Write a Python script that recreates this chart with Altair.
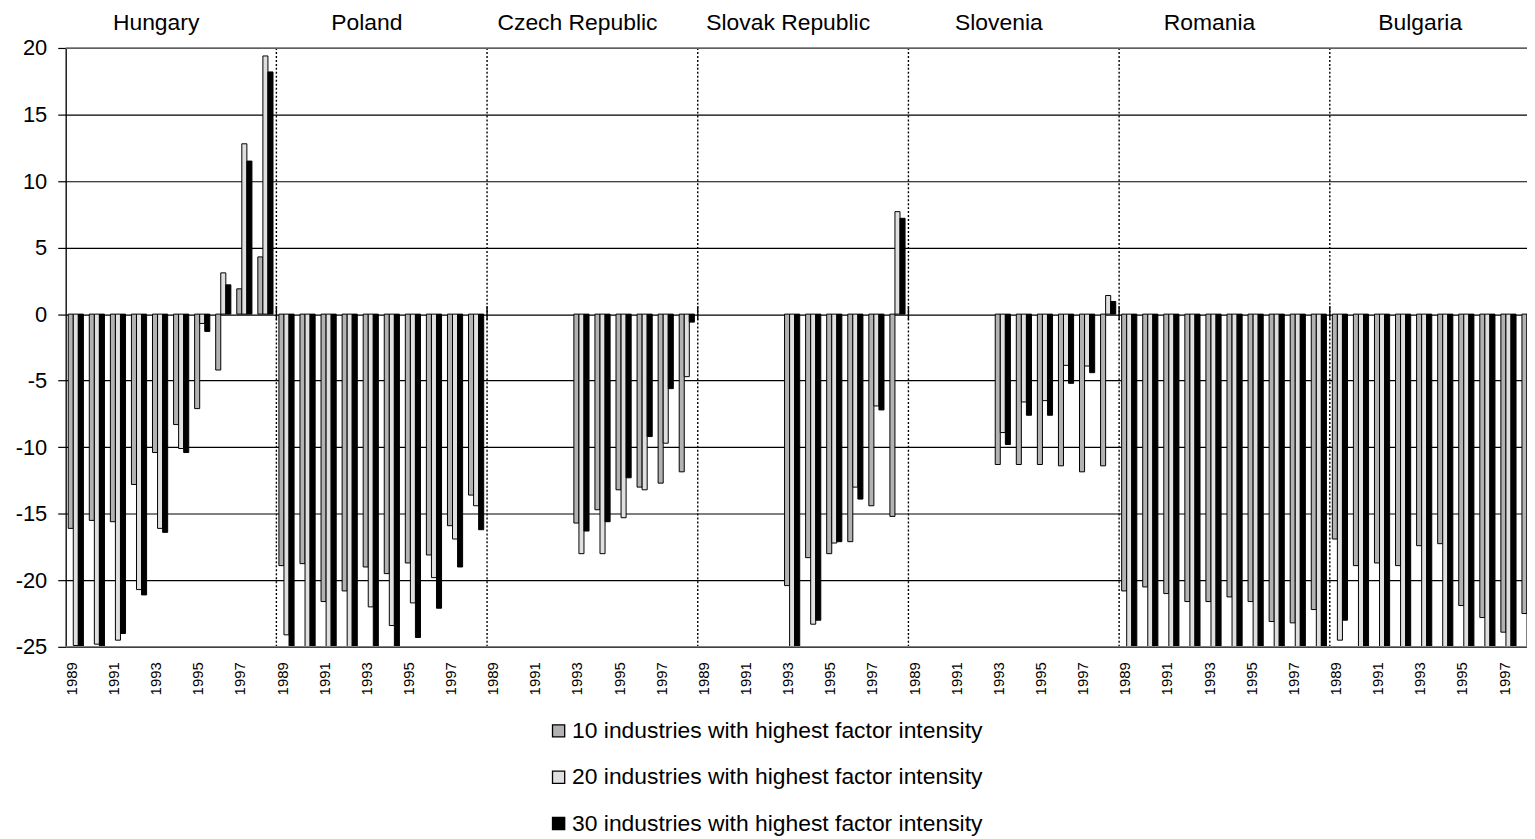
import altair as alt
import pandas as pd

countries = ["Hungary", "Poland", "Czech Republic", "Slovak Republic",
             "Slovenia", "Romania", "Bulgaria"]
years = [1989, 1990, 1991, 1992, 1993, 1994, 1995, 1996, 1997, 1998]
series = ["10 industries with highest factor intensity",
          "20 industries with highest factor intensity",
          "30 industries with highest factor intensity"]
colors = ["#b2b2b2", "#e0e0e0", "#000000"]

N = None
# values below -25 are cut off by the axis in the original (read as about -27)
hungary_10 = [-16.1, -15.5, -15.6, -12.8, -10.4, -8.3, -7.1, -4.2, 1.9, 4.3]
hungary_20 = [-24.9, -24.8, -24.5, -20.7, -16.1, -10.1, -0.7, 3.1, 12.8, 19.4]
hungary_30 = [-27, -27, -24.0, -21.1, -16.4, -10.4, -1.3, 2.2, 11.5, 18.2]

poland_10 = [-18.9, -18.75, -21.6, -20.8, -19.0, -19.5, -18.7, -18.1, -15.9, -13.6]
poland_20 = [-24.1, -27, -27, -27, -22.0, -23.4, -21.7, -19.8, -16.9, -14.4]
poland_30 = [-27, -27, -27, -27, -27, -27, -24.3, -22.1, -19.0, -16.2]

czech_10 = [N, N, N, N, -15.7, -14.7, -13.2, -13.0, -12.7, -11.85]
czech_20 = [N, N, N, N, -18.0, -18.0, -15.3, -13.2, -9.7, -4.7]
czech_30 = [N, N, N, N, -16.3, -15.6, -12.3, -9.2, -5.6, -0.6]

slovak_10 = [N, N, N, N, -20.4, -18.3, -18.0, -17.1, -14.4, -15.2]
slovak_20 = [N, N, N, N, -27, -23.3, -17.2, -13.0, -6.9, 7.7]
slovak_30 = [N, N, N, N, -27, -23.0, -17.1, -13.9, -7.2, 7.2]

slovenia_10 = [N, N, N, N, -11.3, -11.3, -11.3, -11.4, -11.85, -11.4]
slovenia_20 = [N, N, N, N, -8.9, -6.6, -6.5, -3.85, -3.9, 1.4]
slovenia_30 = [N, N, N, N, -9.8, -7.6, -7.6, -5.2, -4.4, 0.95]

romania_10 = [-20.8, -20.5, -21.0, -21.6, -21.6, -21.25, -21.6, -23.1, -23.2, -22.2]
romania_20 = [-27, -27, -27, -27, -27, -27, -27, -27, -27, -27]
romania_30 = [-27, -27, -27, -27, -27, -27, -27, -27, -27, -27]

bulgaria_10 = [-16.9, -18.9, -18.7, -18.9, -17.4, -17.25, -21.9, -22.8, -23.9, -22.5]
bulgaria_20 = [-24.5, -27, -27, -27, -27, -27, -27, -27, -27, -27]
bulgaria_30 = [-23.0, -27, -27, -27, -27, -27, -27, -27, -27, -27]

table = [
    [hungary_10, hungary_20, hungary_30],
    [poland_10, poland_20, poland_30],
    [czech_10, czech_20, czech_30],
    [slovak_10, slovak_20, slovak_30],
    [slovenia_10, slovenia_20, slovenia_30],
    [romania_10, romania_20, romania_30],
    [bulgaria_10, bulgaria_20, bulgaria_30],
]

FONT = "Liberation Sans"
NY = len(years)
BAR_W = 0.24
GROUP_START = 0.12

rows = []
for ci, country in enumerate(countries):
    for si, s in enumerate(series):
        for yi, y in enumerate(years):
            v = table[ci][si][yi]
            if v is None:
                continue
            x0 = ci * NY + yi + GROUP_START + si * BAR_W
            rows.append({"country": country, "year": y, "series": s,
                         "value": v, "x0": x0, "x1": x0 + BAR_W})
bars_df = pd.DataFrame(rows)

xscale = alt.Scale(domain=[0, 69.36], nice=False, zero=False)
yscale = alt.Scale(domain=[-25, 20], nice=False, zero=False)

year_ticks = [ci * NY + yi + 0.27 for ci in range(len(countries)) for yi in range(0, NY, 2)]

bars = alt.Chart(bars_df).mark_bar(stroke="black", strokeWidth=1, clip=True).encode(
    x=alt.X("x0:Q", scale=xscale,
            axis=alt.Axis(values=year_ticks, labelExpr="toString(1989 + floor(datum.value) % 10)",
                          labelAngle=270, labelFontSize=15, labelFont=FONT, labelColor="black",
                          labelPadding=15, ticks=False, tickSize=0, domain=False, grid=False,
                          labelOverlap=False, labelFlush=False, labelBound=False, title=None)),
    x2="x1:Q",
    y=alt.Y("value:Q", scale=yscale,
            axis=alt.Axis(values=[-25, -20, -15, -10, -5, 0, 5, 10, 15, 20],
                          labelExpr="toString(datum.value)",
                          grid=True, gridColor="black", gridWidth=1.2, gridOpacity=1,
                          domain=True, domainColor="black", domainWidth=1.3,
                          ticks=True, tickColor="black", tickSize=8, tickWidth=1.2,
                          labelFontSize=22, labelFont=FONT, labelColor="black",
                          labelPadding=11, title=None)),
    y2=alt.datum(0),
    color=alt.Color("series:N", scale=alt.Scale(domain=series, range=colors),
                    legend=alt.Legend(title=None, orient="none", legendX=484, legendY=675,
                                      direction="vertical", symbolType="square",
                                      symbolSize=150, symbolStrokeColor="black",
                                      symbolStrokeWidth=1.3, symbolOpacity=1,
                                      labelFontSize=23, labelFont=FONT, labelColor="black",
                                      labelLimit=0, labelOffset=2, rowPadding=22.6,
                                      padding=0)),
)

boundaries = pd.DataFrame({"b": [ci * NY for ci in range(1, len(countries))]})

separators = alt.Chart(boundaries).mark_rule(
    color="black", strokeWidth=1.4, strokeDash=[2, 2]
).encode(x=alt.X("b:Q", scale=xscale), y=alt.datum(-25), y2=alt.datum(20))

cross_ticks = alt.Chart(boundaries).mark_rule(
    color="black", strokeWidth=1.4, yOffset=-8, y2Offset=6
).encode(x=alt.X("b:Q", scale=xscale), y=alt.datum(0), y2=alt.datum(0))

borders = alt.Chart(pd.DataFrame({"v": [20, -25]})).mark_rule(
    color="#808080", strokeWidth=1.6
).encode(y=alt.Y("v:Q", scale=yscale))

labels_df = pd.DataFrame({"country": countries,
                          "cx": [ci * NY + NY / 2 for ci in range(len(countries))]})
country_labels = alt.Chart(labels_df).mark_text(
    font=FONT, fontSize=23, color="black", baseline="middle", align="center", dx=-15, dy=-25
).encode(x=alt.X("cx:Q", scale=xscale), y=alt.datum(20), text="country:N")

chart = alt.layer(separators, bars, borders, cross_ticks, country_labels).properties(
    width=1469, height=602,
    autosize=alt.AutoSizeParams(type="none"),
    padding={"left": 58, "top": 38, "right": 0, "bottom": 188},
).configure_view(stroke=None).configure(background="white")

chart.save("out.html", embed_options={"renderer": "svg", "actions": False})
